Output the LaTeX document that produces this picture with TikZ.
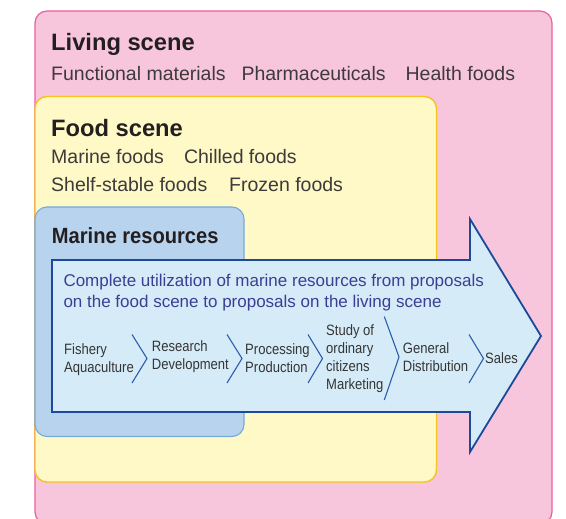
\documentclass[tikz,border=0pt]{standalone}
\usepackage{fontspec}
\setmainfont{Liberation Sans}
\newfontfamily\condsans[FakeStretch=0.87]{Liberation Sans}
\newfontfamily\headcond[FakeStretch=0.915]{Liberation Sans}

\definecolor{livingfill}{HTML}{F7C5DC}
\definecolor{livingline}{HTML}{E9609F}
\definecolor{foodfill}{HTML}{FEF9C6}
\definecolor{foodline}{HTML}{F7C31E}
\definecolor{marinefill}{HTML}{B8D3EE}
\definecolor{marineline}{HTML}{74AADC}
\definecolor{flowfill}{HTML}{D5EBF8}
\definecolor{flowline}{HTML}{1C4A98}
\definecolor{chevline}{HTML}{2C5DAA}
\definecolor{headtext}{HTML}{231F20}
\definecolor{itemtext}{HTML}{3D3A3B}
\definecolor{leadtext}{HTML}{3B3F94}
\definecolor{steptext}{HTML}{353535}

\begin{document}
\begin{tikzpicture}[x=1pt,y=-1pt,
  scenebox/.style={rounded corners=12pt},
  title/.style={anchor=base west,inner sep=0pt,text=headtext,
    font=\fontsize{23.7}{28}\selectfont\bfseries},
  item/.style={anchor=base west,inner sep=0pt,text=itemtext,
    font=\fontsize{19.5}{23}\selectfont},
  % multi-line nodes: the base anchor sits on the last line
  lead/.style={anchor=base west,inner sep=0pt,text=leadtext,align=left,
    font=\fontsize{17}{21}\selectfont},
  stage/.style={anchor=base west,inner sep=0pt,text=steptext,align=left,
    font=\condsans\fontsize{15}{18}\selectfont},
  chevron/.style={draw=chevline,line width=1.1pt}]

\useasboundingbox (0,0) rectangle (566,519);
\clip (0,0) rectangle (566,519);

% nested scenes
\draw[scenebox,fill=livingfill,draw=livingline,line width=1.2pt]
  (35,11) rectangle (552,524);
\draw[scenebox,fill=foodfill,draw=foodline,line width=1.4pt]
  (35,96.5) rectangle (436.5,482);
\draw[scenebox,fill=marinefill,draw=marineline,line width=1.1pt]
  (35,207) rectangle (244,436.5);

% big flow arrow
\draw[fill=flowfill,draw=flowline,line width=1.8pt,line join=miter]
  (52,260) -- (470,260) -- (470,219) -- (541,336) -- (470,452)
  -- (470,412) -- (52,412) -- cycle;

% scene titles and items
\node[title] (living) at (51,50.6) {Living scene};
\node[item] (functional) at (51,81) {Functional materials};
\node[item] (pharma) at (241.3,81) {Pharmaceuticals};
\node[item] (health) at (405.4,81) {Health foods};

\node[title] (food) at (51,136.8) {Food scene};
\node[item] (marinefoods) at (51,163.4) {Marine foods};
\node[item] (chilled) at (183.8,163.4) {Chilled foods};
\node[item] (shelf) at (51,191.5) {Shelf-stable foods};
\node[item] (frozen) at (229,191.5) {Frozen foods};

\node[anchor=base west,inner sep=0pt,text=headtext,
  font=\headcond\fontsize{22}{26}\selectfont\bfseries] (marine) at (51.7,243.3)
  {Marine resources};

% arrow contents
\node[lead] (lead) at (63.3,307.7)
  {Complete utilization of marine resources from proposals\\
   on the food scene to proposals on the living scene};

\node[stage] (s1) at (64,372.5) {Fishery\\Aquaculture};
\node[stage] (s2) at (151.7,369) {Research\\Development};
\node[stage] (s3) at (245,372.5) {Processing\\Production};
\node[stage] (s4) at (326,389) {Study of\\ordinary\\citizens\\Marketing};
\node[stage] (s5) at (402.7,371) {General\\Distribution};
\node[stage] (s6) at (485,363.3) {Sales};

% separators between stages
\draw[chevron] (132,334.5) -- (147,358.5) -- (132,383);
\draw[chevron] (227,334.5) -- (242,358.5) -- (227,383);
\draw[chevron] (308,334.5) -- (322.5,358.5) -- (308,383);
\draw[chevron] (384.3,316.5) -- (399,357) -- (384.3,400);
\draw[chevron] (469,334.5) -- (483.5,358.5) -- (469,383);
\end{tikzpicture}
\end{document}
